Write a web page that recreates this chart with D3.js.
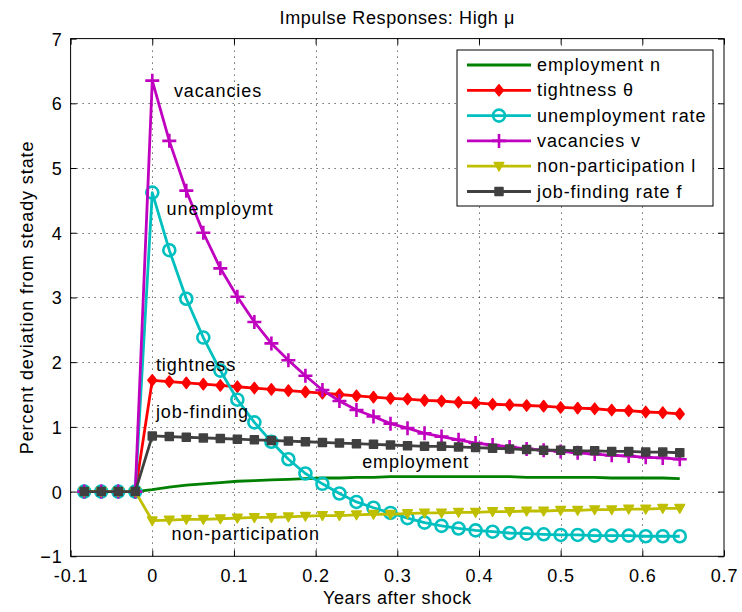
<!DOCTYPE html>
<html>
<head>
<meta charset="utf-8">
<script src="https://cdn.jsdelivr.net/npm/d3@7"></script>
<style>
  body { margin: 0; background: #fff; }
  text { font-family: "Liberation Sans", Arial, Helvetica, sans-serif; font-size: 18px; letter-spacing: 0.9px; fill: #000; }
</style>
</head>
<body>
<svg id="chart" width="742" height="612"></svg>
<script>
// Model periods: 48 per year, 4 periods before the shock
const periodsPerYear = 48;
const periodIndex = d3.range(-4, 32);
const years = periodIndex.map(k => k / periodsPerYear);

// Percent deviations from steady state (4 pre-shock periods, then 32 after)
const employment = [0, 0, 0, 0,
  0.03, 0.07, 0.10, 0.12, 0.14, 0.16, 0.17, 0.18, 0.19, 0.20, 0.21, 0.21, 0.22, 0.22, 0.23, 0.23,
  0.23, 0.23, 0.23, 0.23, 0.23, 0.23, 0.22, 0.22, 0.22, 0.22, 0.22, 0.21, 0.21, 0.21, 0.21, 0.20];
const tightness = [0, 0, 0, 0,
  1.72, 1.70, 1.68, 1.66, 1.64, 1.62, 1.60, 1.58, 1.56, 1.54, 1.52, 1.50, 1.48, 1.46, 1.44, 1.43,
  1.41, 1.40, 1.38, 1.37, 1.35, 1.34, 1.33, 1.32, 1.30, 1.29, 1.28, 1.26, 1.25, 1.23, 1.22, 1.20];
const unemployment = [0, 0, 0, 0,
  4.62, 3.73, 2.98, 2.38, 1.87, 1.42, 1.07, 0.77, 0.50, 0.28, 0.12, -0.03, -0.16, -0.25, -0.33, -0.41,
  -0.48, -0.53, -0.57, -0.60, -0.62, -0.64, -0.65, -0.66, -0.67, -0.67, -0.68, -0.68, -0.68, -0.69, -0.69, -0.69];
const vacancies = [0, 0, 0, 0,
  6.35, 5.42, 4.65, 4.00, 3.45, 3.01, 2.62, 2.29, 2.03, 1.79, 1.57, 1.40, 1.26, 1.16, 1.05, 0.98,
  0.90, 0.85, 0.80, 0.75, 0.72, 0.69, 0.66, 0.64, 0.62, 0.60, 0.58, 0.56, 0.55, 0.53, 0.52, 0.50];
const nonParticipation = [0, 0, 0, 0,
  -0.45, -0.44, -0.43, -0.43, -0.42, -0.41, -0.40, -0.40, -0.39, -0.38, -0.37, -0.37, -0.36, -0.35, -0.35, -0.34,
  -0.33, -0.33, -0.32, -0.32, -0.31, -0.31, -0.30, -0.30, -0.29, -0.29, -0.28, -0.28, -0.27, -0.27, -0.26, -0.26];
const jobFinding = [0, 0, 0, 0,
  0.86, 0.85, 0.84, 0.83, 0.82, 0.81, 0.80, 0.79, 0.78, 0.77, 0.76, 0.75, 0.74, 0.73, 0.72, 0.71,
  0.70, 0.70, 0.69, 0.68, 0.67, 0.66, 0.65, 0.64, 0.64, 0.63, 0.63, 0.62, 0.62, 0.61, 0.61, 0.60];

const xTicks = [-0.1, 0, 0.1, 0.2, 0.3, 0.4, 0.5, 0.6, 0.7];
const yTicks = [-1, 0, 1, 2, 3, 4, 5, 6, 7];

const legendLabels = ["employment n", "tightness \u03b8", "unemployment rate", "vacancies v", "non-participation l", "job-finding rate f"];
const seriesColors = ["#008000", "#ff0000", "#00bfbf", "#bf00bf", "#bfbf00", "#404040"];
const seriesMarkers = ["none", "diamond", "circle", "plus", "triangle", "square"];
const seriesValues = [employment, tightness, unemployment, vacancies, nonParticipation, jobFinding];

// In-plot annotations: [text, x (years), y (percent)]
const annotations = [
  ["vacancies", 0.0265, 6.09],
  ["unemploymt", 0.0175, 4.27],
  ["tightness", 0.0045, 1.86],
  ["job-finding", 0.0045, 1.14],
  ["employment", 0.257, 0.36],
  ["non-participation", 0.0235, -0.75]
];

const svg = d3.select("#chart");
const plotL = 70.6, plotR = 724, plotT = 38.6, plotB = 556.3;

const x = d3.scaleLinear().domain([-0.1, 0.7]).range([plotL, plotR]);
const y = d3.scaleLinear().domain([-1, 7]).range([plotB, plotT]);

// Dotted grid
const grid = svg.append("g").attr("stroke", "#222").attr("stroke-width", 1).attr("stroke-dasharray", "1,5");
grid.selectAll("line.gx").data(xTicks.slice(1, -1)).join("line")
  .attr("x1", d => Math.round(x(d)) + 0.5).attr("x2", d => Math.round(x(d)) + 0.5)
  .attr("y1", plotT).attr("y2", plotB);
grid.selectAll("line.gy").data(yTicks.slice(1, -1)).join("line")
  .attr("x1", plotL).attr("x2", plotR)
  .attr("y1", d => Math.round(y(d)) + 0.5).attr("y2", d => Math.round(y(d)) + 0.5);

// Axes with inward ticks on all four sides
const tickLen = -6;
const fmt = d => String(+d.toFixed(1));
const xAxis = svg.append("g").attr("transform", `translate(0,${plotB})`)
  .call(d3.axisBottom(x).tickValues(xTicks).tickSizeInner(tickLen).tickSizeOuter(0).tickPadding(13).tickFormat(fmt));
const xTop = svg.append("g").attr("transform", `translate(0,${plotT})`)
  .call(d3.axisTop(x).tickValues(xTicks).tickSizeInner(tickLen).tickSizeOuter(0).tickFormat(""));
const yAxis = svg.append("g").attr("transform", `translate(${plotL},0)`)
  .call(d3.axisLeft(y).tickValues(yTicks).tickSizeInner(tickLen).tickSizeOuter(0).tickPadding(8).tickFormat(d3.format("d")));
const yRight = svg.append("g").attr("transform", `translate(${plotR},0)`)
  .call(d3.axisRight(y).tickValues(yTicks).tickSizeInner(tickLen).tickSizeOuter(0).tickFormat(""));
[xAxis, xTop, yAxis, yRight].forEach(g => {
  g.select(".domain").remove();
  g.attr("font-size", null).attr("font-family", null);
  g.selectAll(".tick line").attr("stroke", "#000");
});
yAxis.selectAll(".tick text").attr("dy", "0.36em");

svg.append("rect").attr("x", plotL).attr("y", plotT).attr("width", plotR - plotL).attr("height", plotB - plotT)
  .attr("fill", "none").attr("stroke", "#000").attr("stroke-width", 1);

// Marker shapes
function markerPath(kind) {
  switch (kind) {
    case "diamond": return "M0,-5.6L4.4,0L0,5.6L-4.4,0Z";
    case "plus": return "M-7,0H7M0,-7V7";
    case "triangle": return "M-4.8,-3.8L4.8,-3.8L0,4.8Z";
    case "square": return "M-4,-4H4V4H-4Z";
    default: return null;
  }
}
function drawMarker(g, kind, color) {
  if (kind === "circle") {
    g.append("circle").attr("r", 6).attr("fill", "none").attr("stroke", color).attr("stroke-width", 2.6);
  } else if (kind === "plus") {
    g.append("path").attr("d", markerPath(kind)).attr("fill", "none").attr("stroke", color).attr("stroke-width", 2.6);
  } else if (kind !== "none") {
    g.append("path").attr("d", markerPath(kind)).attr("fill", color).attr("stroke", color).attr("stroke-width", 1.5)
      .attr("stroke-linejoin", "round");
  }
}

const line = d3.line().x((d, i) => x(years[i])).y(d => y(d));

seriesValues.forEach((vals, s) => {
  const g = svg.append("g");
  g.append("path").attr("d", line(vals)).attr("fill", "none")
    .attr("stroke", seriesColors[s]).attr("stroke-width", 2.8).attr("stroke-linejoin", "round");
  if (seriesMarkers[s] !== "none") {
    vals.forEach((v, i) => {
      const m = g.append("g").attr("transform", `translate(${x(years[i])},${y(v)})`);
      drawMarker(m, seriesMarkers[s], seriesColors[s]);
    });
  }
});

// Annotations
svg.append("g").selectAll("text").data(annotations).join("text")
  .attr("x", d => x(d[1])).attr("y", d => y(d[2])).text(d => d[0]);

// Title and axis labels
svg.append("text").attr("x", (plotL + plotR) / 2).attr("y", 24).attr("text-anchor", "middle")
  .style("letter-spacing", "0.6px").text("Impulse Responses: High  \u03bc");
svg.append("text").attr("x", (plotL + plotR) / 2).attr("y", 604).attr("text-anchor", "middle")
  .style("letter-spacing", "0.6px").text("Years after shock");
svg.append("text").attr("transform", `translate(33,${(plotT + plotB) / 2}) rotate(-90)`).attr("text-anchor", "middle")
  .text("Percent deviation from steady state");

// Legend
const lg = svg.append("g");
lg.append("rect").attr("x", 457).attr("y", 50).attr("width", 256).attr("height", 156)
  .attr("fill", "#fff").attr("stroke", "#000").attr("stroke-width", 1);
legendLabels.forEach((lab, i) => {
  const cy = 65 + i * 25.3;
  lg.append("line").attr("x1", 467).attr("x2", 531).attr("y1", cy).attr("y2", cy)
    .attr("stroke", seriesColors[i]).attr("stroke-width", 2.8);
  const m = lg.append("g").attr("transform", `translate(499,${cy})`);
  drawMarker(m, seriesMarkers[i], seriesColors[i]);
  lg.append("text").attr("x", 537).attr("y", cy + 6).text(lab);
});
</script>
</body>
</html>
